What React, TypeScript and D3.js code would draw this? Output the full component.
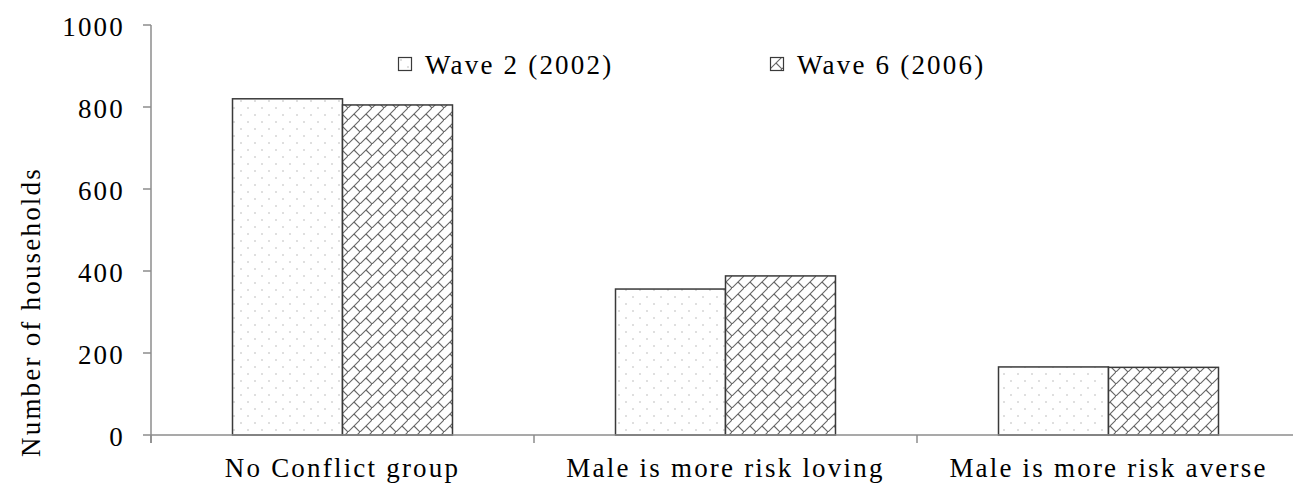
import React from 'react';
import * as d3 from 'd3';

const categories = ['No Conflict group', 'Male is more risk loving', 'Male is more risk averse'];
const seriesNames = ['Wave 2 (2002)', 'Wave 6 (2006)'];
const wave2Values = [820, 356, 166];
const wave6Values = [805, 388, 165];
const yTicks = [0, 200, 400, 600, 800, 1000];

const W = 1293;
const H = 483;
const AXIS = '#8c8c8c';
const textStyle = { fontFamily: 'Liberation Serif', fontSize: 27, letterSpacing: 2.2 };

const x0 = d3.scaleBand<string>().domain(categories).range([151, 1300]).padding(0);
const x1 = d3.scaleBand<string>().domain(seriesNames).range([0, x0.bandwidth()])
  .paddingInner(0).paddingOuter(0.741);
const y = d3.scaleLinear().domain([0, 1000]).range([435, 25]);
const fills = ['url(#dots)', 'url(#brick)'];
const data = [wave2Values, wave6Values];

const App = () => {
  return (
    <svg width={W} height={H} style={{ position: 'absolute', left: 0, top: 0, background: '#fff' }}>
      <defs>
        <pattern id="dots" patternUnits="userSpaceOnUse" width={14} height={14}>
          <rect width={14} height={14} fill="#fff" />
          <circle cx={3} cy={3} r={0.8} fill="#b8b8b8" />
          <circle cx={10} cy={10} r={0.8} fill="#b8b8b8" />
        </pattern>
        <pattern id="brick" patternUnits="userSpaceOnUse" width={12} height={12}>
          <rect width={12} height={12} fill="#fff" />
          <path d="M-3,15 L15,-3 M6,6 L12,12 M-6,-6 L0,0" stroke="#666" strokeWidth={1.1} fill="none" />
        </pattern>
      </defs>

      {/* bars */}
      {categories.map((c, ci) =>
        seriesNames.map((s, si) => {
          const v = data[si][ci];
          return (
            <rect key={c + s}
              x={(x0(c) ?? 0) + (x1(s) ?? 0)} y={y(v)}
              width={x1.bandwidth()} height={y(0) - y(v)}
              fill={fills[si]} stroke="#3a3a3a" strokeWidth={1.5} />
          );
        })
      )}

      {/* y axis */}
      <line x1={151} x2={151} y1={y(1000)} y2={y(0) + 8} stroke={AXIS} strokeWidth={1.5} />
      {yTicks.map(t => (
        <g key={t}>
          <line x1={143} x2={151} y1={y(t)} y2={y(t)} stroke={AXIS} strokeWidth={1.5} />
          <text x={125} y={y(t) + 11} textAnchor="end" style={textStyle}>{t}</text>
        </g>
      ))}

      {/* x axis */}
      <line x1={151} x2={W} y1={y(0)} y2={y(0)} stroke={AXIS} strokeWidth={1.5} />
      {[...categories.map(c => x0(c) ?? 0), 1300].map(px => (
        <line key={px} x1={px} x2={px} y1={y(0)} y2={y(0) + 8} stroke={AXIS} strokeWidth={1.5} />
      ))}
      {categories.map(c => (
        <text key={c} x={(x0(c) ?? 0) + x0.bandwidth() / 2} y={477}
          textAnchor="middle" style={textStyle}>{c}</text>
      ))}

      {/* y title */}
      <text transform="translate(40,312) rotate(-90)" textAnchor="middle" style={textStyle}>
        Number of households
      </text>

      {/* legend */}
      {seriesNames.map((s, i) => {
        const lx = [398, 770][i];
        return (
          <g key={s} transform={`translate(${lx},57)`}>
            <rect x={0.5} y={0.5} width={13} height={13} fill={fills[i]} stroke="#3a3a3a" strokeWidth={1.2} />
            <text x={27} y={17} style={textStyle}>{s}</text>
          </g>
        );
      })}
    </svg>
  );
};

export default App;
